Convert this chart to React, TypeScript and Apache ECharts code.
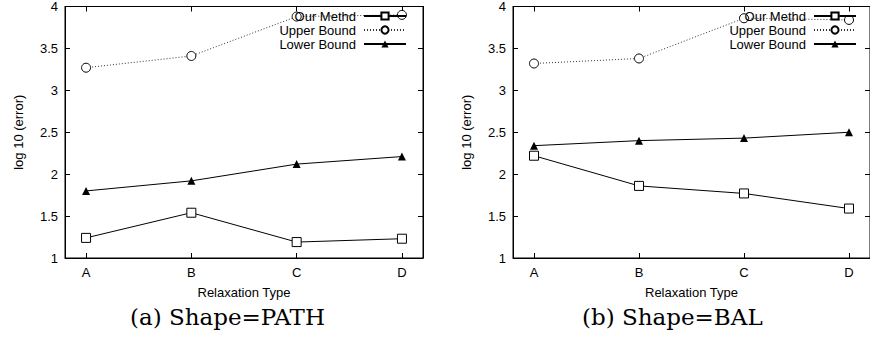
import React, { useEffect, useRef } from "react";
import * as echarts from "echarts";

const categories = ["A", "B", "C", "D"];
const seriesNames = ["Our Methd", "Upper Bound", "Lower Bound"];
const pathOur = [1.24, 1.54, 1.19, 1.23];
const pathUpper = [3.27, 3.41, 3.88, 3.9];
const pathLower = [1.8, 1.92, 2.12, 2.21];
const balOur = [2.22, 1.86, 1.77, 1.59];
const balUpper = [3.32, 3.38, 3.86, 3.84];
const balLower = [2.34, 2.4, 2.43, 2.5];
const captions = ["(a) Shape=PATH", "(b) Shape=BAL"];
const xAxisTitle = "Relaxation Type";
const yAxisTitle = "log 10 (error)";

const FONT = "'Liberation Sans', Arial, sans-serif";
const tickIdx = categories.map((_, i) => i);
const toPairs = (vals: number[]) => vals.map((v, i) => [i, v]);

export default function App() {
  const ref = useRef<HTMLDivElement>(null);
  useEffect(() => {
    document.body.style.margin = "0";
    const chart = echarts.init(ref.current!, null, { renderer: "svg" });
    const grids = [
      { left: 65, top: 6, width: 358, height: 252 },
      { left: 513, top: 6, width: 358, height: 252 },
    ];
    const axisLine = { show: true, onZero: false, lineStyle: { color: "#000", width: 1 } };
    const xAxes: any[] = [];
    const yAxes: any[] = [];
    grids.forEach((_, g) => {
      xAxes.push({
        type: "value",
        gridIndex: g,
        position: "bottom",
        min: -0.2,
        max: 3.2,
        splitLine: { show: false },
        axisLine,
        axisTick: { show: true, inside: true, length: 5, customValues: tickIdx, lineStyle: { color: "#000" } },
        axisLabel: {
          customValues: tickIdx,
          formatter: (v: number) => categories[Math.round(v)] ?? "",
          color: "#000",
          fontSize: 13,
          fontFamily: FONT,
          margin: 8,
        },
        name: xAxisTitle,
        nameLocation: "middle",
        nameGap: 28,
        nameTextStyle: { color: "#000", fontSize: 13, fontFamily: FONT },
      });
      xAxes.push({
        type: "value",
        gridIndex: g,
        position: "top",
        min: -0.2,
        max: 3.2,
        splitLine: { show: false },
        axisLine,
        axisTick: { show: true, inside: true, length: 5, customValues: tickIdx, lineStyle: { color: "#000" } },
        axisLabel: { show: false },
      });
      yAxes.push({
        type: "value",
        gridIndex: g,
        position: "left",
        min: 1,
        max: 4,
        interval: 0.5,
        splitLine: { show: false },
        axisLine,
        axisTick: { show: true, inside: true, length: 5, lineStyle: { color: "#000" } },
        axisLabel: { color: "#000", fontSize: 13, fontFamily: FONT, margin: 7 },
        name: yAxisTitle,
        nameLocation: "middle",
        nameGap: 40,
        nameTextStyle: { color: "#000", fontSize: 13, fontFamily: FONT },
      });
      yAxes.push({
        type: "value",
        gridIndex: g,
        position: "right",
        min: 1,
        max: 4,
        interval: 0.5,
        splitLine: { show: false },
        axisLine,
        axisTick: { show: true, inside: true, length: 5, lineStyle: { color: "#000" } },
        axisLabel: { show: false },
      });
    });

    const datasets = [
      [pathOur, pathUpper, pathLower],
      [balOur, balUpper, balLower],
    ];
    const series: any[] = [];
    datasets.forEach((sets, g) => {
      const [our, upper, lower] = sets;
      series.push({
        name: seriesNames[0],
        type: "line",
        xAxisIndex: g * 2,
        yAxisIndex: g * 2,
        data: toPairs(our),
        symbol: "rect",
        symbolSize: 9,
        itemStyle: { color: "#fff", borderColor: "#000", borderWidth: 1 },
        lineStyle: { color: "#000", width: 1 },
        z: 3,
      });
      series.push({
        name: seriesNames[1],
        type: "line",
        xAxisIndex: g * 2,
        yAxisIndex: g * 2,
        data: toPairs(upper),
        symbol: "circle",
        symbolSize: 9,
        itemStyle: { color: "#fff", borderColor: "#000", borderWidth: 1 },
        lineStyle: { color: "#333", width: 1, type: [1, 2] },
        z: 3,
      });
      series.push({
        name: seriesNames[2],
        type: "line",
        xAxisIndex: g * 2,
        yAxisIndex: g * 2,
        data: toPairs(lower),
        symbol: "triangle",
        symbolSize: 8,
        itemStyle: { color: "#000", borderColor: "#000", borderWidth: 0 },
        lineStyle: { color: "#000", width: 1 },
        z: 3,
      });
    });

    const legendBase = {
      orient: "vertical",
      align: "right",
      top: 9,
      itemWidth: 42,
      itemHeight: 9,
      itemGap: 0,
      padding: 0,
      data: seriesNames,
      selectedMode: false,
      textStyle: { color: "#000", fontSize: 13, fontFamily: FONT, lineHeight: 14, padding: [0, 3, 0, 0] },
    };

    chart.setOption({
      animation: false,
      backgroundColor: "#fff",
      grid: grids.map((g) => ({ ...g, show: true, borderColor: "#000", borderWidth: 1, backgroundColor: "transparent" })),
      xAxis: xAxes,
      yAxis: yAxes,
      legend: [
        { ...legendBase, right: 463 },
        { ...legendBase, right: 13 },
      ],
      series,
      graphic: [
        {
          type: "text",
          left: 227 - 97,
          top: 305,
          style: { text: captions[0], fill: "#000", font: "23px 'DejaVu Serif', serif" },
        },
        {
          type: "text",
          left: 673 - 91,
          top: 305,
          style: { text: captions[1], fill: "#000", font: "23px 'DejaVu Serif', serif" },
        },
      ],
    });
    return () => chart.dispose();
  }, []);
  return <div ref={ref} style={{ width: 870, height: 341 }} />;
}
